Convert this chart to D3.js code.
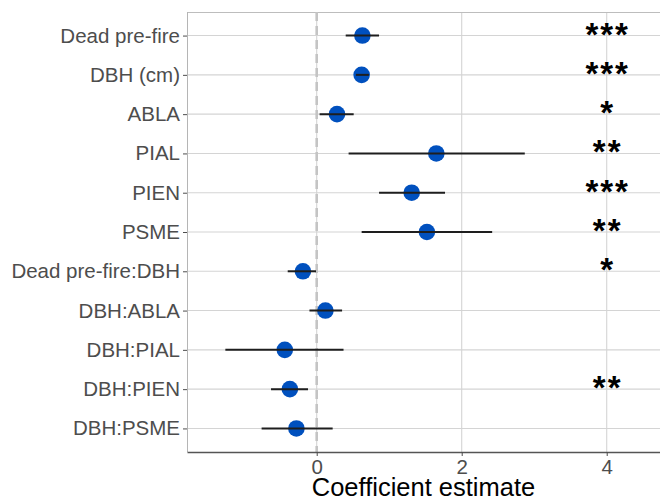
<!DOCTYPE html>
<html>
<head>
<meta charset="utf-8">
<script src="https://cdn.jsdelivr.net/npm/d3@7"></script>
<style>
    body { margin: 0; background: #fff; }
    svg text { font-family: "Liberation Sans", Arial, sans-serif; }
</style>
</head>
<body>
<div id="chart"></div>
<script>
var terms = ['Dead pre-fire', 'DBH (cm)', 'ABLA', 'PIAL', 'PIEN', 'PSME',
    'Dead pre-fire:DBH', 'DBH:ABLA', 'DBH:PIAL', 'DBH:PIEN', 'DBH:PSME']
var estimates = [0.63, 0.62, 0.28, 1.65, 1.31, 1.52, -0.19, 0.12, -0.44, -0.37, -0.28]
var lower = [0.40, 0.54, 0.04, 0.44, 0.86, 0.62, -0.40, -0.10, -1.26, -0.63, -0.76]
var upper = [0.86, 0.72, 0.51, 2.87, 1.77, 2.42, -0.01, 0.35, 0.37, -0.12, 0.22]
var stars = ['***', '***', '*', '**', '***', '**', '*', '', '', '**', '']
var xTicks = [0, 2, 4]
var starX = 4

var W = 660, H = 501
var margin = { top: 12, right: 0, bottom: 49, left: 187 },
    width = W - margin.left - margin.right,
    height = H - margin.top - margin.bottom

var data = terms.map(function (t, i) {
    return { term: t, est: estimates[i], lo: lower[i], hi: upper[i], star: stars[i] }
})

var svg = d3.select('#chart').append('svg')
    .attr('width', W)
    .attr('height', H)
    .append('g')
    .attr('transform', 'translate(' + margin.left + ',' + margin.top + ')')

var x = d3.scaleLinear().domain([-1.789, 4.735]).range([0, width])
var y = d3.scalePoint().domain(terms).range([0, height]).padding(0.6)

// grid
svg.selectAll('.hgrid').data(terms).enter().append('line')
    .attr('x1', 0).attr('x2', width)
    .attr('y1', function (d) { return y(d) }).attr('y2', function (d) { return y(d) })
    .attr('stroke', '#d4d4d4').attr('stroke-width', 1.1)
svg.selectAll('.vgrid').data(xTicks).enter().append('line')
    .attr('x1', function (d) { return x(d) }).attr('x2', function (d) { return x(d) })
    .attr('y1', 0).attr('y2', height)
    .attr('stroke', '#d4d4d4').attr('stroke-width', 1.1)

// panel border (top/left) and x axis line
svg.append('line').attr('x1', 0).attr('x2', width).attr('y1', 0.5).attr('y2', 0.5)
    .attr('stroke', '#bdbdbd').attr('stroke-width', 1)
svg.append('line').attr('x1', 0.5).attr('x2', 0.5).attr('y1', 0).attr('y2', height)
    .attr('stroke', '#b5b5b5').attr('stroke-width', 1)

// zero reference
svg.append('line')
    .attr('x1', x(0)).attr('x2', x(0))
    .attr('y1', 0).attr('y2', height)
    .attr('stroke', '#c4c4c4').attr('stroke-width', 2.6)
    .attr('stroke-dasharray', '9,5')

// points then intervals on top
svg.selectAll('.pt').data(data).enter().append('circle')
    .attr('cx', function (d) { return x(d.est) })
    .attr('cy', function (d) { return y(d.term) })
    .attr('r', 8.3)
    .attr('fill', '#0050BE')
svg.selectAll('.ci').data(data).enter().append('line')
    .attr('x1', function (d) { return x(d.lo) })
    .attr('x2', function (d) { return x(d.hi) })
    .attr('y1', function (d) { return y(d.term) })
    .attr('y2', function (d) { return y(d.term) })
    .attr('stroke', '#1e1e1e').attr('stroke-width', 2)

// significance stars, centred on x = 4
svg.selectAll('.star').data(data).enter().append('text')
    .attr('x', x(starX) + 1)
    .attr('y', function (d) { return y(d.term) + 10 })
    .attr('text-anchor', 'middle')
    .attr('font-size', '33px')
    .attr('font-weight', 'bold')
    .attr('letter-spacing', '2px')
    .attr('fill', '#000')
    .text(function (d) { return d.star })

// axes
var yAxis = svg.append('g').call(d3.axisLeft(y).tickSize(4).tickPadding(3))
yAxis.select('.domain').remove()
yAxis.selectAll('line').attr('stroke', '#4d4d4d')
yAxis.selectAll('text').attr('font-size', '20.5px').attr('fill', '#4d4d4d')
    .attr('font-family', '"Liberation Sans", Arial, sans-serif')

var xAxis = svg.append('g').attr('transform', 'translate(0,' + height + ')')
    .call(d3.axisBottom(x).tickValues(xTicks).tickFormat(d3.format('d'))
        .tickSize(4).tickSizeOuter(0).tickPadding(3))
xAxis.select('.domain').attr('stroke', '#555').attr('stroke-width', 1.5)
xAxis.selectAll('line').attr('stroke', '#4d4d4d')
xAxis.selectAll('text').attr('font-size', '20.5px').attr('fill', '#4d4d4d')
    .attr('font-family', '"Liberation Sans", Arial, sans-serif')

svg.append('text')
    .attr('x', width / 2)
    .attr('y', height + 44)
    .attr('text-anchor', 'middle')
    .attr('font-size', '25.5px')
    .attr('fill', '#000')
    .text('Coefficient estimate')
</script>
</body>
</html>
